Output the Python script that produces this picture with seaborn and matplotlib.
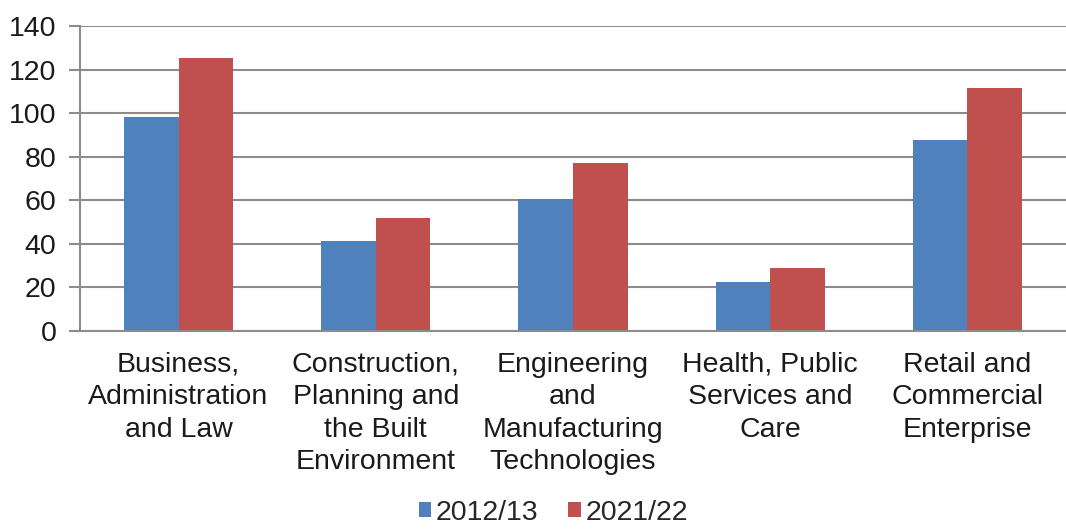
import numpy as np
import pandas as pd
import matplotlib
matplotlib.use("Agg")
import matplotlib.pyplot as plt
import seaborn as sns
from matplotlib.patches import Patch

# Data
categories = [
    "Business,\nAdministration\nand Law",
    "Construction,\nPlanning and\nthe Built\nEnvironment",
    "Engineering\nand\nManufacturing\nTechnologies",
    "Health, Public\nServices and\nCare",
    "Retail and\nCommercial\nEnterprise",
]
years = ["2012/13", "2021/22"]
values_2012 = [98.4, 41.3, 60.8, 22.5, 87.7]
values_2021 = [125.2, 52.0, 77.0, 28.8, 111.7]
colors = ["#4F81BD", "#C0504D"]
y_ticks = [0, 20, 40, 60, 80, 100, 120, 140]

df = pd.DataFrame({
    "category": categories * 2,
    "year": [years[0]] * len(categories) + [years[1]] * len(categories),
    "value": values_2012 + values_2021,
})

sns.set_style("white")
plt.rcParams["font.family"] = ["Liberation Sans", "DejaVu Sans"]
grid_col = "#8C8C8C"
fs = 20.5

fig = plt.figure(figsize=(10.66, 5.29), dpi=100)
ax = fig.add_axes([0.075, 0.3743, 0.925, 0.5765])

sns.barplot(data=df, x="category", y="value", hue="year", palette=colors,
            width=0.553, ax=ax, legend=False, saturation=1, edgecolor="none")

ax.set_xlim(-0.5, len(categories) - 0.5)
ax.set_ylim(0, 140)
ax.set_yticks(y_ticks)
ax.set_yticklabels([str(t) for t in y_ticks], fontsize=fs, color="#1a1a1a")
ax.yaxis.grid(True, color=grid_col, linewidth=1.5)
ax.set_axisbelow(True)
ax.set_xlabel("")
ax.set_ylabel("")

# category labels at the centres, tick marks between categories
ax.set_xticks(range(len(categories)))
ax.set_xticklabels(categories, fontsize=fs, color="#1a1a1a", linespacing=1.32)
ax.tick_params(axis="x", which="major", length=0, pad=15)
ax.set_xticks(np.arange(-0.5, len(categories), 1.0), minor=True)
ax.tick_params(axis="x", which="minor", length=8, width=1.5, color=grid_col,
               direction="out")
ax.tick_params(axis="y", length=8, width=1.5, color=grid_col, direction="out",
               pad=9, left=True)

for side in ["top", "right"]:
    ax.spines[side].set_visible(False)
for side in ["left", "bottom"]:
    ax.spines[side].set_color(grid_col)
    ax.spines[side].set_linewidth(1.5)

handles = [Patch(facecolor=c, edgecolor="none") for c in colors]
fig.legend(handles, years, loc="lower center", bbox_to_anchor=(0.519, -0.042),
           ncol=2, frameon=False, fontsize=fs, handlelength=0.45,
           handleheight=0.45, handletextpad=0.15, columnspacing=1.05)

fig.savefig("out.png", dpi=100)
